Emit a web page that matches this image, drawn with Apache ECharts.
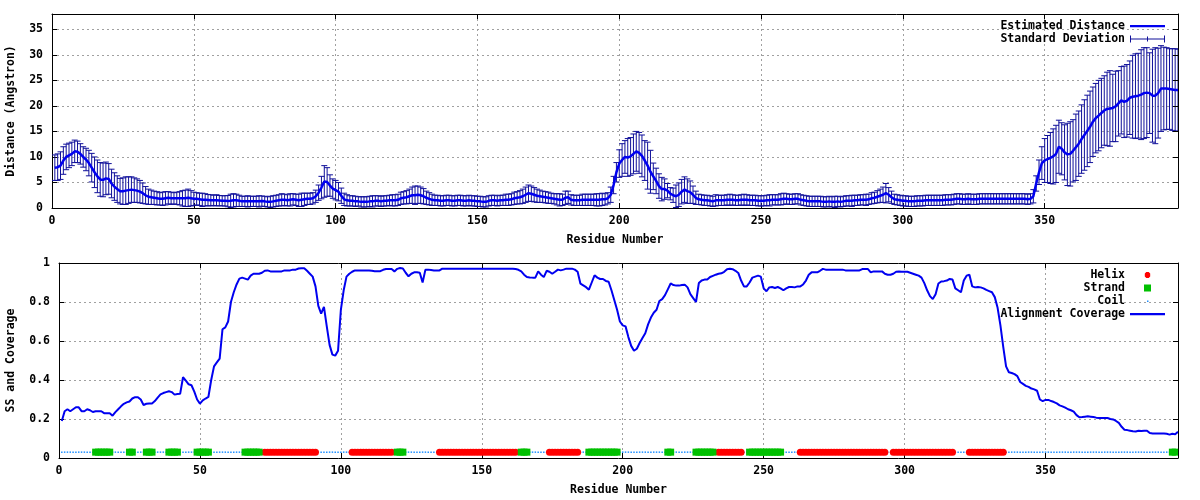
<!DOCTYPE html>
<html>
<head>
<meta charset="utf-8">
<script src="https://cdn.jsdelivr.net/npm/echarts/dist/echarts.min.js"></script>
<style>
html,body{margin:0;padding:0;background:#fff;}
#chart{width:1200px;height:500px;}
</style>
</head>
<body>
<div id="chart"></div>
<script>
// ===== DATA =====
// Residue numbers run 1..397 (index + 1)
const residueMax = 397;
const xTickStep = 50;
const distanceAxisMax = 38;
const distanceTickStep = 5;
const coverageTickStep = 0.2;

const meanDistance = [
7.9,8.0,8.3,9.3,10.0,10.3,10.6,11.1,11.0,10.6,
10.0,9.5,8.8,7.9,7.0,6.2,5.6,5.5,5.8,5.7,
4.8,4.2,3.7,3.3,3.3,3.4,3.5,3.6,3.5,3.4,
3.2,2.9,2.5,2.2,2.1,2.0,1.9,1.8,1.8,1.9,
2.0,1.9,1.9,1.9,1.9,1.9,1.9,2.0,1.9,1.8,
1.8,1.7,1.6,1.6,1.55,1.5,1.5,1.5,1.45,1.4,
1.4,1.35,1.4,1.5,1.5,1.4,1.3,1.3,1.3,1.3,
1.3,1.3,1.3,1.35,1.3,1.2,1.2,1.3,1.4,1.5,
1.6,1.6,1.5,1.6,1.7,1.6,1.5,1.6,1.7,1.8,
1.8,1.9,2.3,3.0,4.0,5.2,5.1,4.4,3.8,3.5,
3.2,2.4,1.7,1.5,1.4,1.4,1.3,1.3,1.2,1.2,
1.2,1.3,1.3,1.4,1.4,1.3,1.4,1.4,1.5,1.5,
1.5,1.6,1.9,2.0,2.1,2.3,2.5,2.5,2.6,2.5,
2.3,2.0,1.8,1.6,1.5,1.5,1.4,1.4,1.5,1.5,
1.4,1.4,1.5,1.5,1.4,1.4,1.5,1.4,1.4,1.3,
1.3,1.2,1.2,1.4,1.5,1.5,1.4,1.5,1.5,1.6,
1.6,1.7,1.9,2.0,2.1,2.3,2.6,2.9,2.8,2.6,
2.4,2.3,2.2,2.1,2.0,1.9,1.8,1.7,1.6,1.6,
2.0,2.1,1.6,1.5,1.5,1.5,1.6,1.6,1.6,1.6,
1.6,1.6,1.6,1.7,1.7,1.9,2.6,4.5,7.0,8.7,
9.4,10.0,9.9,10.1,10.6,11.1,10.8,10.2,9.3,8.3,
7.1,6.2,5.3,4.3,3.7,3.7,3.4,2.8,2.5,2.3,
2.6,3.2,3.6,3.3,3.1,2.6,2.0,1.7,1.6,1.5,
1.5,1.4,1.3,1.5,1.5,1.5,1.5,1.6,1.6,1.6,
1.5,1.5,1.6,1.6,1.6,1.5,1.5,1.5,1.4,1.4,
1.4,1.5,1.5,1.6,1.6,1.6,1.7,1.8,1.8,1.7,
1.7,1.8,1.8,1.6,1.5,1.4,1.3,1.3,1.3,1.3,
1.3,1.2,1.2,1.3,1.2,1.2,1.3,1.2,1.3,1.4,
1.4,1.4,1.5,1.5,1.6,1.6,1.6,1.7,1.9,2.0,
2.2,2.4,2.6,2.9,2.6,2.1,1.7,1.6,1.5,1.4,
1.4,1.3,1.3,1.3,1.4,1.4,1.4,1.5,1.5,1.5,
1.5,1.5,1.5,1.5,1.6,1.6,1.6,1.7,1.8,1.8,
1.7,1.7,1.8,1.7,1.7,1.7,1.8,1.8,1.8,1.8,
1.8,1.8,1.8,1.8,1.8,1.8,1.8,1.8,1.8,1.8,
1.8,1.8,1.8,1.7,1.8,2.3,4.8,7.0,8.8,9.3,
9.6,9.8,10.1,10.6,12.0,11.6,10.9,10.5,10.6,11.2,
11.9,12.6,13.5,14.3,15.1,15.9,16.9,17.6,18.1,18.6,
19.1,19.4,19.5,19.6,19.9,20.5,21.1,20.8,21.0,21.6,
21.8,21.9,22.0,22.2,22.5,22.6,22.5,22.0,22.0,22.5,
23.4,23.4,23.4,23.3,23.2,23.1,23.1
];

const stdDeviation = [
2.5,2.6,2.7,2.7,2.5,2.4,2.3,2.2,2.1,2.0,
2.0,2.2,2.5,2.8,3.0,3.2,3.3,3.3,3.2,3.0,
2.8,2.7,2.6,2.5,2.6,2.7,2.6,2.5,2.4,2.3,
2.2,2.0,1.7,1.5,1.4,1.3,1.3,1.2,1.3,1.3,
1.2,1.2,1.1,1.2,1.3,1.5,1.6,1.7,1.5,1.3,
1.2,1.2,1.3,1.2,1.1,1.1,1.0,1.1,1.0,1.0,
1.0,1.1,1.3,1.3,1.2,1.1,1.0,1.0,1.1,1.0,
1.0,1.0,1.1,1.0,1.0,1.0,1.1,1.1,1.1,1.1,
1.2,1.1,1.1,1.2,1.1,1.1,1.2,1.3,1.2,1.1,
1.1,1.1,1.2,1.5,2.2,3.1,2.8,2.1,1.9,1.9,
1.8,1.5,1.2,1.1,1.0,1.0,1.0,0.9,1.0,1.0,
1.0,1.0,1.1,1.0,1.0,1.0,1.0,1.0,1.0,1.1,
1.1,1.1,1.2,1.2,1.3,1.4,1.6,1.8,1.7,1.6,
1.5,1.3,1.2,1.1,1.0,1.0,1.0,1.0,1.0,1.0,
1.0,1.0,1.0,1.0,1.0,1.0,1.0,1.0,1.0,1.0,
1.0,1.0,1.0,1.0,1.0,1.0,1.0,1.0,1.0,1.1,
1.1,1.1,1.2,1.2,1.3,1.4,1.5,1.6,1.5,1.4,
1.3,1.2,1.1,1.1,1.1,1.0,1.0,1.1,1.2,1.1,
1.3,1.2,1.0,1.0,1.0,1.0,1.1,1.1,1.1,1.1,
1.1,1.2,1.2,1.2,1.1,1.1,1.5,1.7,1.9,2.7,
3.2,3.2,3.7,3.7,3.9,3.9,4.0,4.1,3.9,4.6,
4.2,2.6,2.5,2.4,2.3,2.0,1.4,1.2,1.4,2.2,
2.3,2.4,2.5,2.4,2.2,1.7,1.3,1.0,1.0,1.0,
1.0,1.0,1.0,1.1,1.0,1.0,1.0,1.0,1.1,1.0,
1.0,1.0,1.0,1.1,1.0,1.0,1.0,1.0,1.0,1.0,
1.0,1.0,1.1,1.0,1.0,1.0,1.1,1.1,1.0,1.0,
1.0,1.0,1.0,1.0,1.0,1.0,1.0,1.0,1.0,1.0,
1.0,1.0,1.0,1.0,1.0,1.1,1.0,1.0,1.0,1.0,
1.0,1.1,1.0,1.0,1.0,1.0,1.1,1.0,1.1,1.1,
1.2,1.3,1.5,1.9,1.4,1.2,1.0,1.0,1.0,1.0,
1.0,1.0,1.0,1.0,1.0,1.0,1.0,1.0,1.0,1.0,
1.0,1.0,1.0,1.0,1.0,1.0,1.0,1.0,1.0,1.0,
1.0,1.0,1.0,1.0,1.0,1.0,1.0,1.0,1.0,1.0,
1.0,1.0,1.0,1.0,1.0,1.0,1.0,1.0,1.0,1.0,
1.0,1.0,1.0,1.0,1.0,1.3,1.5,2.4,3.2,4.3,
4.6,5.0,5.4,5.6,5.2,5.1,5.4,6.1,6.3,6.1,
6.5,6.4,6.7,6.9,7.0,7.0,6.8,6.8,6.9,6.8,
6.8,7.2,7.4,6.6,6.9,6.4,6.6,7.0,7.1,7.2,
8.1,8.3,8.3,8.8,8.9,8.8,7.9,9.1,9.4,8.8,
8.4,8.1,8.0,7.9,8.0,8.1,8.0
];

const alignmentCoverage = [
0.19,0.24,0.25,0.24,0.25,0.26,0.26,0.24,0.24,0.25,
0.245,0.236,0.24,0.24,0.24,0.23,0.23,0.23,0.217,0.235,
0.25,0.265,0.278,0.285,0.29,0.305,0.312,0.312,0.30,0.272,
0.278,0.28,0.28,0.292,0.31,0.326,0.333,0.338,0.342,0.338,
0.325,0.328,0.33,0.414,0.397,0.378,0.373,0.34,0.30,0.279,
0.296,0.305,0.313,0.40,0.47,0.49,0.51,0.66,0.67,0.70,
0.80,0.85,0.89,0.92,0.925,0.92,0.915,0.935,0.945,0.945,
0.945,0.95,0.96,0.962,0.957,0.957,0.957,0.957,0.957,0.962,
0.962,0.962,0.966,0.966,0.972,0.973,0.973,0.96,0.945,0.93,
0.88,0.78,0.74,0.775,0.675,0.58,0.53,0.525,0.55,0.76,
0.86,0.93,0.945,0.955,0.962,0.962,0.962,0.962,0.962,0.962,
0.96,0.958,0.958,0.958,0.965,0.969,0.969,0.969,0.957,0.97,
0.974,0.972,0.95,0.932,0.945,0.952,0.952,0.95,0.9,0.966,
0.966,0.964,0.962,0.962,0.962,0.971,0.971,0.971,0.971,0.971,
0.971,0.971,0.971,0.971,0.971,0.971,0.971,0.971,0.971,0.971,
0.971,0.971,0.971,0.971,0.971,0.971,0.971,0.971,0.971,0.971,
0.971,0.969,0.965,0.957,0.94,0.928,0.926,0.925,0.925,0.957,
0.94,0.928,0.96,0.955,0.945,0.955,0.966,0.962,0.966,0.971,
0.971,0.971,0.966,0.955,0.894,0.885,0.876,0.863,0.90,0.937,
0.925,0.918,0.918,0.908,0.904,0.86,0.81,0.76,0.70,0.68,
0.675,0.62,0.575,0.55,0.56,0.59,0.615,0.64,0.685,0.72,
0.745,0.76,0.805,0.815,0.835,0.865,0.895,0.887,0.884,0.884,
0.887,0.889,0.875,0.84,0.82,0.80,0.897,0.91,0.915,0.915,
0.928,0.934,0.94,0.945,0.947,0.955,0.968,0.971,0.968,0.96,
0.949,0.91,0.88,0.88,0.90,0.925,0.93,0.935,0.93,0.87,
0.855,0.875,0.877,0.872,0.877,0.87,0.86,0.87,0.877,0.877,
0.875,0.88,0.88,0.89,0.91,0.94,0.952,0.952,0.952,0.96,
0.97,0.966,0.966,0.966,0.966,0.966,0.966,0.966,0.962,0.962,
0.962,0.962,0.962,0.962,0.969,0.969,0.969,0.952,0.957,0.957,
0.957,0.957,0.945,0.94,0.94,0.945,0.955,0.957,0.955,0.955,
0.955,0.95,0.945,0.94,0.935,0.925,0.897,0.86,0.83,0.815,
0.84,0.895,0.905,0.907,0.91,0.918,0.915,0.87,0.86,0.85,
0.91,0.935,0.94,0.88,0.875,0.877,0.875,0.87,0.862,0.856,
0.85,0.825,0.77,0.68,0.57,0.47,0.44,0.436,0.43,0.42,
0.39,0.38,0.37,0.365,0.356,0.352,0.345,0.30,0.292,0.298,
0.298,0.292,0.287,0.28,0.27,0.265,0.258,0.25,0.245,0.238,
0.22,0.209,0.21,0.212,0.214,0.212,0.21,0.207,0.205,0.205,
0.205,0.205,0.2,0.198,0.19,0.18,0.16,0.145,0.143,0.14,
0.137,0.136,0.14,0.138,0.14,0.14,0.128,0.126,0.126,0.126,
0.126,0.126,0.124,0.12,0.124,0.122,0.135
];

// Secondary structure segments [first residue, last residue]
const helixSegments = [[73,91],[104,118],[135,162],[174,184],[234,242],[263,293],[296,317],[323,335]];
const strandSegments = [[13,18],[25,26],[31,33],[39,42],[49,53],[66,71],[120,122],[164,166],[188,198],[216,217],[226,232],[245,256],[395,396]];
const ssLevel = 0.03;

// ===== BUILD =====
const ssType = new Array(residueMax + 1).fill('C');
helixSegments.forEach(([a, b]) => { for (let r = a; r <= b; r++) ssType[r] = 'H'; });
strandSegments.forEach(([a, b]) => { for (let r = a; r <= b; r++) ssType[r] = 'E'; });
const helixPts = [], strandPts = [], coilPts = [];
for (let r = 1; r <= residueMax; r++) {
  if (ssType[r] === 'H') helixPts.push([r, ssLevel]);
  else if (ssType[r] === 'E') strandPts.push([r, ssLevel]);
  else coilPts.push([r, ssLevel]);
}
const meanData = meanDistance.map((v, i) => [i + 1, v]);
const errData = meanDistance.map((v, i) => [i + 1, v - stdDeviation[i], v + stdDeviation[i]]);
const coverageData = alignmentCoverage.map((v, i) => [i + 1, v]);

const FONT = "'DejaVu Sans Mono', 'Liberation Mono', monospace";
const txt = { fontFamily: FONT, fontWeight: 'bold', fontSize: 11.5, color: '#000' };
const errColor = '#10109a';
const lineBlue = '#0000f0';
const helixRed = '#ff0000';
const strandGreen = '#00c000';
const coilBlue = '#2090ff';

function renderErrorBar(params, api) {
  const x = api.value(0);
  const lo = api.coord([x, api.value(1)]);
  const hi = api.coord([x, api.value(2)]);
  const cap = 3;
  const style = { stroke: errColor, lineWidth: 1, fill: null };
  return {
    type: 'group',
    children: [
      { type: 'line', shape: { x1: hi[0], y1: hi[1], x2: lo[0], y2: lo[1] }, style },
      { type: 'line', shape: { x1: hi[0] - cap, y1: hi[1], x2: hi[0] + cap, y2: hi[1] }, style },
      { type: 'line', shape: { x1: lo[0] - cap, y1: lo[1], x2: lo[0] + cap, y2: lo[1] }, style }
    ]
  };
}

const gridLine = { show: true, showMinLine: false, showMaxLine: false, lineStyle: { color: '#a0a0a0', type: [2, 3], width: 1 } };
const axisLineBlack = { show: true, onZero: false, lineStyle: { color: '#000', width: 1 } };
const tickIn = { show: true, inside: true, length: 5, lineStyle: { color: '#000' } };

function mainX(gi) {
  return {
    type: 'value', gridIndex: gi, position: 'bottom', min: 0, max: residueMax, interval: xTickStep,
    name: 'Residue Number', nameLocation: 'middle', nameGap: 26, nameTextStyle: txt,
    axisLine: axisLineBlack, axisTick: tickIn,
    axisLabel: Object.assign({ margin: 7, showMaxLabel: false }, txt),
    splitLine: gridLine
  };
}
function mirrorX(gi) {
  return {
    type: 'value', gridIndex: gi, position: 'top', min: 0, max: residueMax, interval: xTickStep, z: 5,
    axisLine: axisLineBlack, axisTick: tickIn, axisLabel: { show: false }, splitLine: { show: false }
  };
}
function mirrorY(gi, max, step) {
  return {
    type: 'value', gridIndex: gi, position: 'right', min: 0, max: max, interval: step, z: 5,
    axisLine: axisLineBlack, axisTick: tickIn, axisLabel: { show: false }, splitLine: { show: false }
  };
}

const legendBase = {
  orient: 'vertical', align: 'right', itemWidth: 35, itemHeight: 9, padding: 0,
  selectedMode: false, textStyle: txt, right: 35
};
// legend glyphs drawn inside a 35x9 box (tiny corner specks fix the box size)
const box = 'M0,0h0.01v0.01h-0.01z M34.99,8.99h0.01v0.01h-0.01z ';
const errIcon = 'path://M0,1h1v7h-1z M34,1h1v7h-1z M0,4h35v1h-35z M17,2h1v5h-1z';
const lineIcon = 'path://' + box + 'M0,3.5h35v2.2h-35z';
const helixIcon = 'path://' + box + 'M16.3,1.5L18.7,1.5L20.2,3L20.2,6L18.7,7.5L16.3,7.5L14.8,6L14.8,3Z';
const strandIcon = 'path://' + box + 'M14,1h7v7h-7z';
const coilIcon = 'path://' + box + 'M17,4h1.5v1.5h-1.5z';

const option = {
  animation: false,
  backgroundColor: '#fff',
  grid: [
    { left: 52, top: 14, width: 1126, height: 194, outerBoundsMode: 'none' },
    { left: 59, top: 263, width: 1119, height: 195, outerBoundsMode: 'none' }
  ],
  xAxis: [mainX(0), mirrorX(0), mainX(1), mirrorX(1)],
  yAxis: [
    {
      type: 'value', gridIndex: 0, position: 'left', min: 0, max: distanceAxisMax, interval: distanceTickStep,
      name: 'Distance (Angstron)', nameLocation: 'middle', nameGap: 35, nameTextStyle: txt,
      axisLine: axisLineBlack, axisTick: tickIn,
      axisLabel: Object.assign({ margin: 9, showMaxLabel: false }, txt),
      splitLine: gridLine
    },
    mirrorY(0, distanceAxisMax, distanceTickStep),
    {
      type: 'value', gridIndex: 1, position: 'left', min: 0, max: 1, interval: coverageTickStep,
      name: 'SS and Coverage', nameLocation: 'middle', nameGap: 42, nameTextStyle: txt,
      axisLine: axisLineBlack, axisTick: tickIn,
      axisLabel: Object.assign({ margin: 9 }, txt),
      splitLine: gridLine
    },
    mirrorY(1, 1, coverageTickStep)
  ],
  legend: [
    Object.assign({}, legendBase, { top: 20, data: [{ name: 'Estimated Distance', icon: lineIcon, itemStyle: { color: lineBlue } }] }),
    Object.assign({}, legendBase, { top: 33, data: [{ name: 'Standard Deviation', icon: errIcon, itemStyle: { color: errColor } }] }),
    Object.assign({}, legendBase, { top: 269, data: [{ name: 'Helix', icon: helixIcon, itemStyle: { color: helixRed } }] }),
    Object.assign({}, legendBase, { top: 282, data: [{ name: 'Strand', icon: strandIcon, itemStyle: { color: strandGreen } }] }),
    Object.assign({}, legendBase, { top: 295, data: [{ name: 'Coil', icon: coilIcon, itemStyle: { color: coilBlue } }] }),
    Object.assign({}, legendBase, { top: 308, data: [{ name: 'Alignment Coverage', icon: lineIcon, itemStyle: { color: lineBlue } }] })
  ],
  series: [
    {
      name: 'Standard Deviation', type: 'custom', xAxisIndex: 0, yAxisIndex: 0,
      renderItem: renderErrorBar, data: errData, encode: { x: 0, y: [1, 2] },
      itemStyle: { color: errColor }, clip: true, z: 2
    },
    {
      name: 'Estimated Distance', type: 'line', xAxisIndex: 0, yAxisIndex: 0,
      data: meanData, symbol: 'none', lineStyle: { color: lineBlue, width: 2.5 },
      itemStyle: { color: lineBlue }, z: 3
    },
    {
      name: 'Helix', type: 'scatter', xAxisIndex: 2, yAxisIndex: 2, data: helixPts,
      symbol: 'circle', symbolSize: 7, itemStyle: { color: helixRed, opacity: 1 }, z: 3
    },
    {
      name: 'Strand', type: 'scatter', xAxisIndex: 2, yAxisIndex: 2, data: strandPts,
      symbol: 'rect', symbolSize: 7, itemStyle: { color: strandGreen, opacity: 1 }, z: 3
    },
    {
      name: 'Coil', type: 'scatter', xAxisIndex: 2, yAxisIndex: 2, data: coilPts,
      symbol: 'rect', symbolSize: 1.5, itemStyle: { color: coilBlue, opacity: 1 }, z: 2
    },
    {
      name: 'Alignment Coverage', type: 'line', xAxisIndex: 2, yAxisIndex: 2,
      data: coverageData, symbol: 'none', lineStyle: { color: lineBlue, width: 2 },
      itemStyle: { color: lineBlue }, z: 3
    }
  ]
};

const chart = echarts.init(document.getElementById('chart'), null, { renderer: 'canvas' });
chart.setOption(option);
</script>
</body>
</html>
